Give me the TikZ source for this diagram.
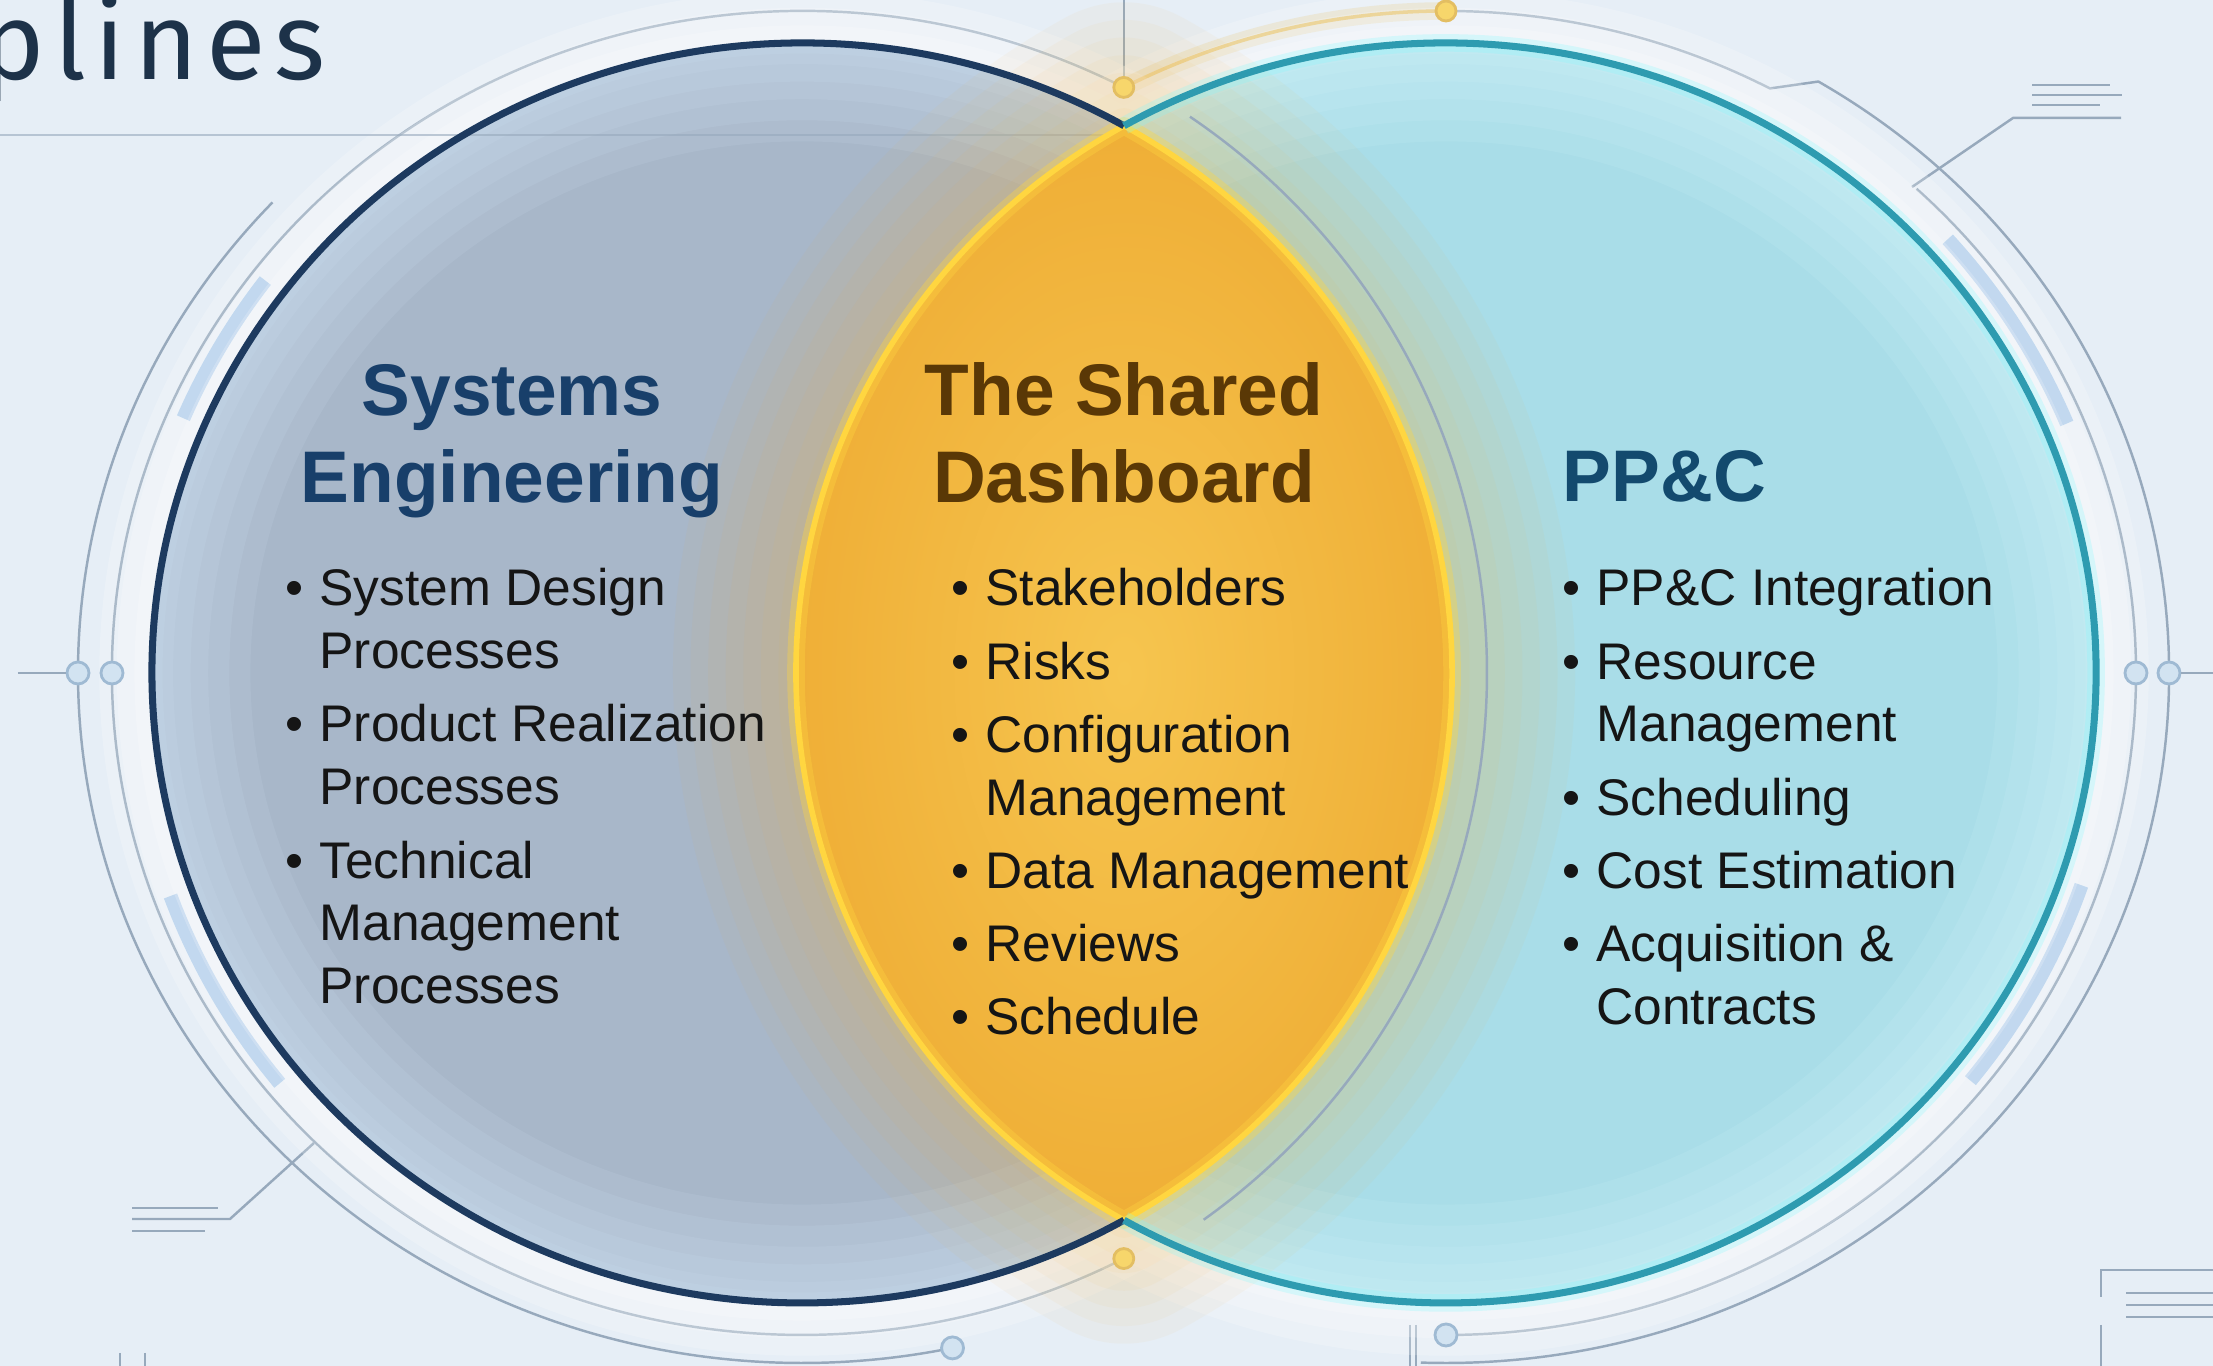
\documentclass[tikz,border=0pt]{standalone}
\usepackage{fontspec}
\setmainfont{Liberation Sans}
\newfontfamily\titlefont[LetterSpace=8]{Fira Sans}
\usetikzlibrary{calc}

\definecolor{bgblue}{HTML}{E6EEF6}
\definecolor{sefill}{HTML}{A8B7C9}
\definecolor{seglow}{HTML}{D2E5F6}
\definecolor{seedge}{HTML}{1D3A5F}
\definecolor{ppcfill}{HTML}{A9DDE8}
\definecolor{ppcglow}{HTML}{D6F6FC}
\definecolor{ppcedge}{HTML}{2E9BB0}
\definecolor{lensgold}{HTML}{EFAE36}
\definecolor{lenscore}{HTML}{F6C54F}
\definecolor{lensedge}{HTML}{FFD640}
\definecolor{lensglow}{HTML}{F2B23C}
\definecolor{setitle}{HTML}{183F6A}
\definecolor{dashtitle}{HTML}{5A3806}
\definecolor{ppctitle}{HTML}{134A6E}
\definecolor{itemink}{HTML}{151515}
\definecolor{titleink}{HTML}{1D3249}
\definecolor{decoline}{HTML}{97A9BC}
\definecolor{barblue}{HTML}{A0C3E6}
\definecolor{dotfill}{HTML}{D2E3F1}
\definecolor{dotline}{HTML}{9FBAD3}
\definecolor{ringgold}{HTML}{E3BE62}
\definecolor{dotgold}{HTML}{F7D66B}

\tikzstyle{ringline}=[draw=decoline, line width=0.7pt]
\tikzstyle{accentbar}=[draw=barblue, line width=4pt]
\tikzstyle{ringdot}=[circle, draw=dotline, fill=dotfill, line width=0.8pt, inner sep=0pt, minimum size=0.22cm]
\tikzstyle{golddot}=[circle, draw=ringgold, fill=dotgold, line width=0.8pt, inner sep=0pt, minimum size=0.2cm]
\tikzstyle{headtext}=[inner sep=0pt, font=\fontsize{20.8}{24.5}\selectfont\bfseries]
\tikzstyle{listtext}=[inner sep=0pt, anchor=base west, text=itemink, font=\fontsize{14.65}{17.9}\selectfont]

\begin{document}
\begin{tikzpicture}
	\useasboundingbox (0,0) rectangle (22.13,13.66);
	\clip (0,0) rectangle (22.13,13.66);
	\fill[bgblue] (0,0) rectangle (22.13,13.66);

	\coordinate (lc) at (8.02,6.93);
	\coordinate (rc) at (14.46,6.93);
	\coordinate (top) at ($(lc)+(60.3:6.5 and 6.3)$);
	\coordinate (bot) at ($(lc)+(-60.3:6.5 and 6.3)$);

	% outer rings
	\draw[ringline] ($(lc)+(62.2:6.9 and 6.62)$) arc[start angle=62.2, end angle=297.8, x radius=6.9, y radius=6.62];
	\draw[ringline] ($(lc)+(137:7.24 and 6.9)$) arc[start angle=137, end angle=282, x radius=7.24, y radius=6.9];
	\draw[ringline] ($(rc)+(90:6.9 and 6.62)$) arc[start angle=90, end angle=62, x radius=6.9, y radius=6.62]
		-- ($(rc)+(59:7.23 and 6.9)$) arc[start angle=59, end angle=-92, x radius=7.23, y radius=6.9];
	\draw[ringline] ($(rc)+(47:6.9 and 6.62)$) arc[start angle=47, end angle=-90, x radius=6.9, y radius=6.62];
	\draw[ringgold, line width=5pt, opacity=0.25] ($(rc)+(117.8:6.9 and 6.62)$) arc[start angle=117.8, end angle=90, x radius=6.9, y radius=6.62];
	\draw[ringgold, line width=1pt] ($(rc)+(117.8:6.9 and 6.62)$) arc[start angle=117.8, end angle=90, x radius=6.9, y radius=6.62];

	% accent bars
	\draw[accentbar] ($(lc)+(143:6.72 and 6.52)$) arc[start angle=143, end angle=157, x radius=6.72, y radius=6.52];
	\draw[accentbar] ($(lc)+(200:6.72 and 6.52)$) arc[start angle=200, end angle=219, x radius=6.72, y radius=6.52];
	\draw[accentbar] ($(rc)+(22.5:6.72 and 6.52)$) arc[start angle=22.5, end angle=41.7, x radius=6.72, y radius=6.52];
	\draw[accentbar] ($(rc)+(-38.7:6.72 and 6.52)$) arc[start angle=-38.7, end angle=-19, x radius=6.72, y radius=6.52];

	% traces
	\draw[ringline] (11.24,13.66) -- (11.24,12.9);
	\draw[ringline] (19.12,11.79) -- (20.13,12.48) -- (21.21,12.48);
	\draw[ringline] (20.32,12.81) -- (21.10,12.81);
	\draw[ringline] (20.32,12.71) -- (21.22,12.71);
	\draw[ringline] (20.32,12.61) -- (21.00,12.61);
	\draw[ringline] (3.14,2.23) -- (2.30,1.47) -- (1.32,1.47);
	\draw[ringline] (1.32,1.58) -- (2.18,1.58);
	\draw[ringline] (1.32,1.35) -- (2.05,1.35);
	\draw[ringline] (22.13,0.96) -- (21.01,0.96) -- (21.01,0.69);
	\draw[ringline] (21.01,0.41) -- (21.01,0);
	\draw[ringline] (21.26,0.73) -- (22.13,0.73);
	\draw[ringline] (21.26,0.61) -- (22.13,0.61);
	\draw[ringline] (21.26,0.49) -- (22.13,0.49);
	\draw[ringline] (14.10,0.41) -- (14.10,0);
	\draw[ringline] (14.16,0.41) -- (14.16,0);
	\draw[ringline] (1.20,0.13) -- (1.20,0);
	\draw[ringline] (1.45,0.13) -- (1.45,0);

	% halo
	\foreach \w in {30,20,10} {
		\draw[white, line width=\w pt, opacity=0.2] (lc) ellipse [x radius=6.5, y radius=6.3];
		\draw[white, line width=\w pt, opacity=0.2] (rc) ellipse [x radius=6.5, y radius=6.3];
	}

	% systems engineering circle
	\fill[sefill] (lc) ellipse [x radius=6.5, y radius=6.3];
	\begin{scope}
		\clip (lc) ellipse [x radius=6.5, y radius=6.3];
		\foreach \w in {56,44,32,22,12,6}
			\draw[seglow, line width=\w pt, opacity=0.13] (lc) ellipse [x radius=6.5, y radius=6.3];
	\end{scope}

	% pp&c circle
	\fill[ppcfill] (rc) ellipse [x radius=6.5, y radius=6.3];
	\begin{scope}
		\clip (rc) ellipse [x radius=6.5, y radius=6.3];
		\foreach \w in {56,44,32,22,12,6}
			\draw[ppcglow, line width=\w pt, opacity=0.13] (rc) ellipse [x radius=6.5, y radius=6.3];
	\end{scope}

	\draw[decoline, line width=0.7pt, opacity=0.6] (0,12.31) -- (11.1,12.31);

	% shared lens
	\foreach \w in {70,60,50,40,30,20,10} {
		\draw[lensglow, line width=\w pt, opacity=0.05, line join=round] (top) arc[start angle=60.3, end angle=-60.3, x radius=6.5, y radius=6.3]
			arc[start angle=240.3, end angle=119.7, x radius=6.5, y radius=6.3] -- cycle;
	}
	\begin{scope}
		\clip (lc) ellipse [x radius=6.5, y radius=6.3];
		\clip (rc) ellipse [x radius=6.5, y radius=6.3];
		\shade[inner color=lenscore, outer color=lensgold] (11.24,6.93) ellipse [x radius=3.4, y radius=5.6];
	\end{scope}
	\draw[lensedge, line width=5pt, opacity=0.35, line join=round] (top) arc[start angle=60.3, end angle=-60.3, x radius=6.5, y radius=6.3]
		arc[start angle=240.3, end angle=119.7, x radius=6.5, y radius=6.3] -- cycle;
	\draw[lensedge, line width=1.6pt] (top) arc[start angle=60.3, end angle=-60.3, x radius=6.5, y radius=6.3]
		arc[start angle=240.3, end angle=119.7, x radius=6.5, y radius=6.3] -- cycle;

	% outlines
	\draw[seedge, line width=2pt] (top) arc[start angle=60.3, end angle=299.7, x radius=6.5, y radius=6.3];
	\draw[ppcglow!60!cyan, line width=5pt, opacity=0.25] (top) arc[start angle=119.7, end angle=-119.7, x radius=6.5, y radius=6.3];
	\draw[ppcedge, line width=2pt] (top) arc[start angle=119.7, end angle=-119.7, x radius=6.5, y radius=6.3];

	\draw[decoline, line width=0.7pt] ($(lc)+(55.5:6.85 and 6.75)$) arc[start angle=55.5, end angle=-54.1, x radius=6.85, y radius=6.75];

	% ring dots
	\node[ringdot] (ldotin) at ($(lc)+(180:6.9 and 6.62)$) {};
	\node[ringdot] (ldotout) at ($(lc)+(180:7.24 and 6.9)$) {};
	\node[ringdot] (rdotin) at ($(rc)+(0:6.9 and 6.62)$) {};
	\node[ringdot] (rdotout) at ($(rc)+(0:7.23 and 6.9)$) {};
	\node[ringdot] (ldotlow) at ($(lc)+(282:7.24 and 6.9)$) {};
	\node[ringdot] (rdotlow) at ($(rc)+(270:6.9 and 6.62)$) {};
	\coordinate (lstub) at (0.18,6.93);
	\coordinate (rstub) at (22.13,6.93);
	\draw[ringline] (lstub) -- (ldotout);
	\draw[ringline] (rdotout) -- (rstub);
	\node[golddot] (gtop) at ($(lc)+(62.2:6.9 and 6.62)$) {};
	\node[golddot] (gbot) at ($(lc)+(297.8:6.9 and 6.62)$) {};
	\node[golddot] (gpeak) at ($(rc)+(90:6.9 and 6.62)$) {};

	\node[anchor=base west, inner sep=0pt, text=titleink, font=\titlefont\fontsize{31}{33}\selectfont] (pagetitle) at (-0.2,12.86) {plines};

	% headings
	\node[headtext, text=setitle, anchor=base] (sehead) at (5.12,9.50) {\begin{tabular}[t]{@{}c@{}}Systems\\Engineering\end{tabular}};
	\node[headtext, text=dashtitle, anchor=base] (dashhead) at (11.24,9.50) {\begin{tabular}[t]{@{}c@{}}The Shared\\Dashboard\end{tabular}};
	\node[headtext, text=ppctitle, anchor=base west] (ppchead) at (15.62,8.64) {PP\&C};

	% lists
	\node[listtext] (selist) at (2.85,7.60) {\begin{tabular}[t]{@{}l@{\hspace{4.5pt}}l@{}}
		\textbullet & System Design\\ & Processes\\[2.9pt]
		\textbullet & Product Realization\\ & Processes\\[2.9pt]
		\textbullet & Technical\\ & Management\\ & Processes
	\end{tabular}};
	\node[listtext] (dashlist) at (9.51,7.60) {\begin{tabular}[t]{@{}l@{\hspace{4.5pt}}l@{}}
		\textbullet & Stakeholders\\[2.9pt]
		\textbullet & Risks\\[2.9pt]
		\textbullet & Configuration\\ & Management\\[2.9pt]
		\textbullet & Data Management\\[2.9pt]
		\textbullet & Reviews\\[2.9pt]
		\textbullet & Schedule
	\end{tabular}};
	\node[listtext] (ppclist) at (15.62,7.60) {\begin{tabular}[t]{@{}l@{\hspace{4.5pt}}l@{}}
		\textbullet & PP\&C Integration\\[2.9pt]
		\textbullet & Resource\\ & Management\\[2.9pt]
		\textbullet & Scheduling\\[2.9pt]
		\textbullet & Cost Estimation\\[2.9pt]
		\textbullet & Acquisition \&\\ & Contracts
	\end{tabular}};
\end{tikzpicture}
\end{document}
